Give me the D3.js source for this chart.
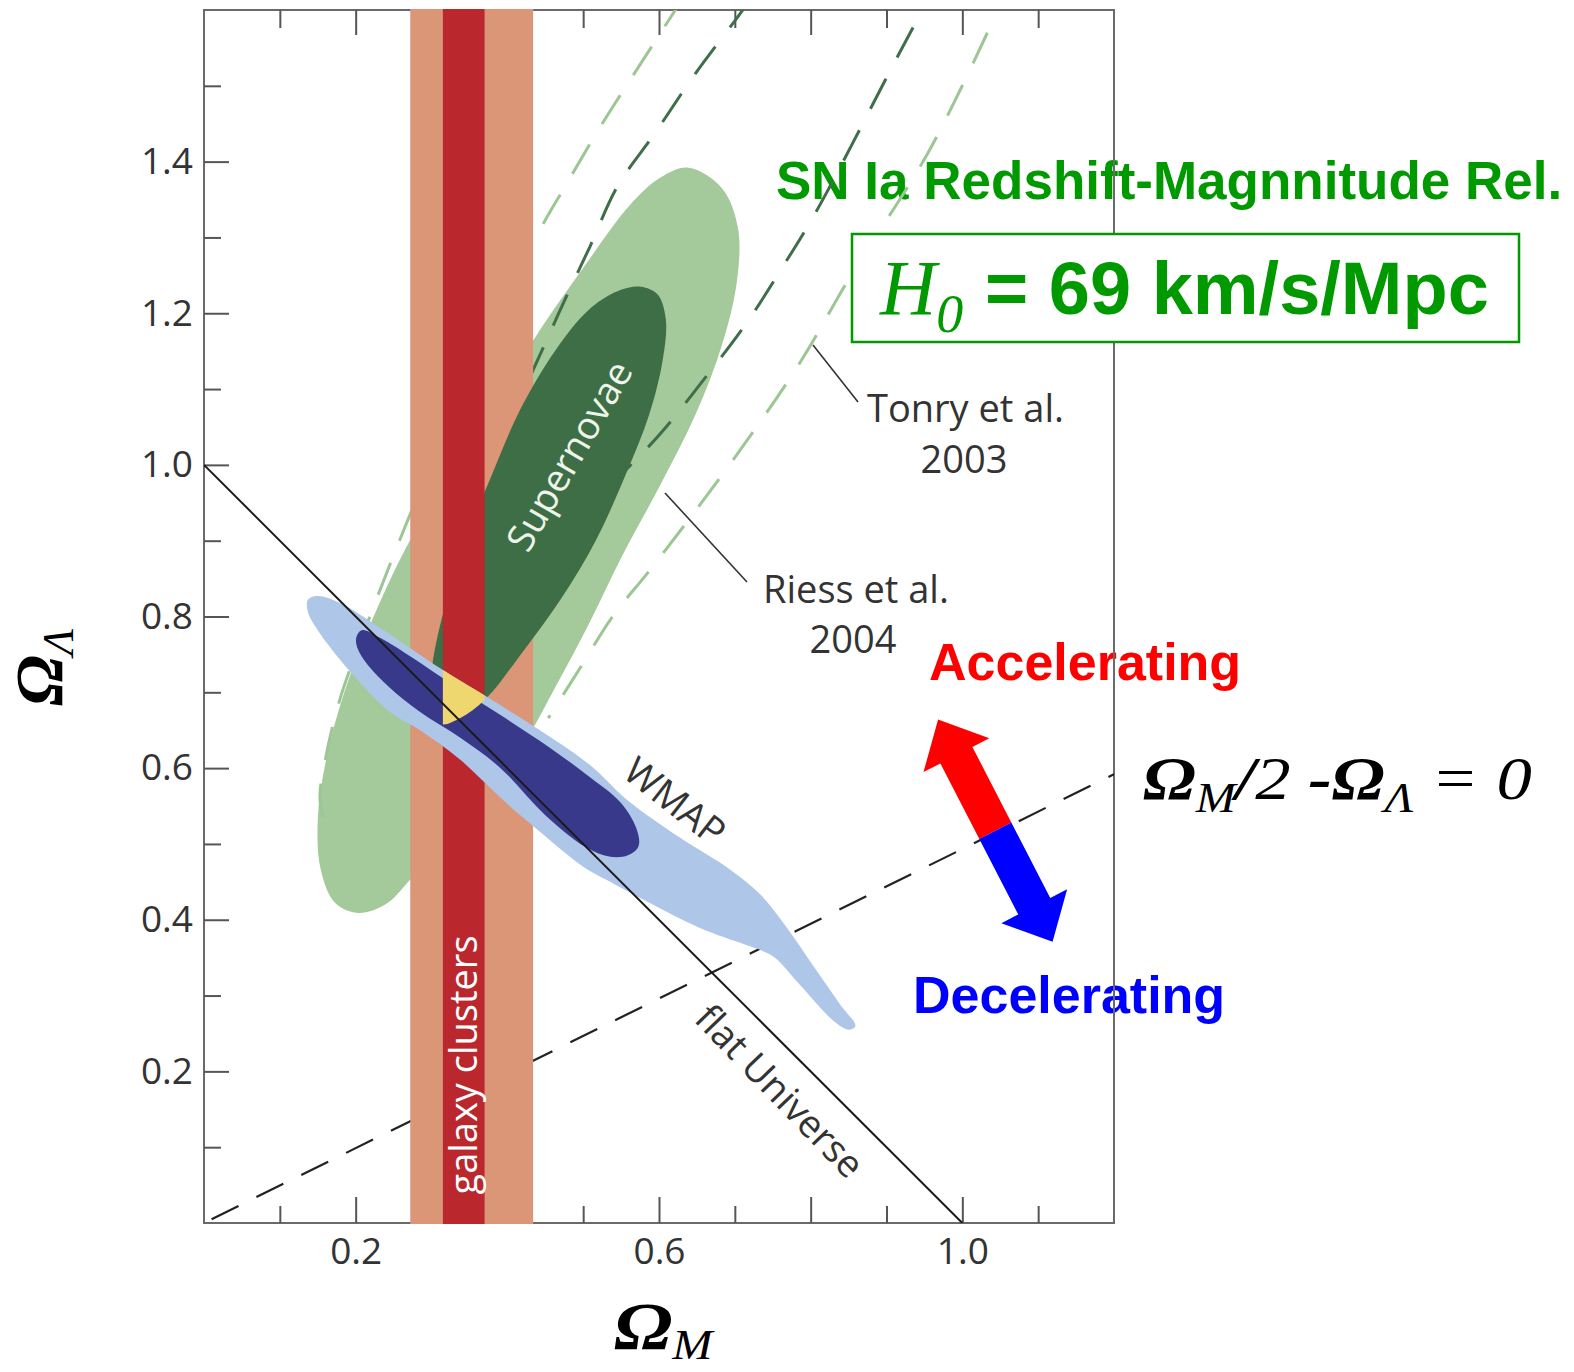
<!DOCTYPE html>
<html>
<head>
<meta charset="utf-8">
<script src="https://cdn.jsdelivr.net/npm/d3@7"></script>
<style>
  body { margin: 0; background: #fff; }
  text { font-family: "Open Sans", "Noto Sans", sans-serif; }
</style>
</head>
<body>
<script>
// ---- data (Omega_M, Omega_Lambda) ----
var xTicks = [0.1, 0.2, 0.3, 0.4, 0.5, 0.6, 0.7, 0.8, 0.9, 1.0, 1.1];
var xLabelled = [0.2, 0.6, 1.0];
var yTicks = [0.1, 0.2, 0.3, 0.4, 0.5, 0.6, 0.7, 0.8, 0.9, 1.0, 1.1, 1.2, 1.3, 1.4, 1.5];
var yLabelled = [0.2, 0.4, 0.6, 0.8, 1.0, 1.2, 1.4];

// galaxy clusters band (Omega_M ranges)
var clusterOuter = [0.272, 0.434];
var clusterInner = [0.315, 0.370];

// supernovae contours
var sn2sigma = [[0.639, 1.392], [0.683, 1.365], [0.704, 1.313], [0.703, 1.244], [0.683, 1.158],
  [0.648, 1.066], [0.602, 0.974], [0.552, 0.881], [0.507, 0.789], [0.465, 0.710], [0.417, 0.626],
  [0.335, 0.532], [0.272, 0.453], [0.239, 0.420], [0.203, 0.409], [0.173, 0.422], [0.154, 0.466],
  [0.150, 0.532], [0.161, 0.611], [0.186, 0.703], [0.222, 0.796], [0.265, 0.888], [0.318, 0.980],
  [0.377, 1.073], [0.443, 1.178], [0.503, 1.264], [0.562, 1.343], [0.602, 1.379]];
var sn1sigma = [[0.576, 1.235], [0.598, 1.225], [0.609, 1.192], [0.605, 1.139], [0.587, 1.066],
  [0.556, 0.987], [0.517, 0.901], [0.470, 0.822], [0.417, 0.749], [0.374, 0.694], [0.338, 0.666],
  [0.312, 0.658], [0.296, 0.683], [0.301, 0.736], [0.314, 0.799], [0.345, 0.901], [0.378, 0.983],
  [0.417, 1.073], [0.464, 1.152], [0.510, 1.207], [0.550, 1.231]];

// WMAP contours
var wmap2sigma = [[0.137, 0.822], [0.150, 0.827], [0.179, 0.818], [0.232, 0.785], [0.314, 0.730],
  [0.373, 0.694], [0.443, 0.650], [0.509, 0.604], [0.558, 0.558], [0.628, 0.508], [0.694, 0.466],
  [0.734, 0.433], [0.766, 0.393], [0.807, 0.334], [0.839, 0.288], [0.859, 0.260], [0.850, 0.255],
  [0.832, 0.265], [0.786, 0.314], [0.753, 0.350], [0.734, 0.360], [0.714, 0.367], [0.654, 0.389],
  [0.588, 0.422], [0.530, 0.453], [0.500, 0.470], [0.443, 0.516], [0.391, 0.561], [0.338, 0.611],
  [0.285, 0.650], [0.245, 0.674], [0.193, 0.727], [0.150, 0.782], [0.137, 0.806]];
var wmap1sigma = [[0.201, 0.773], [0.208, 0.782], [0.232, 0.772], [0.276, 0.745], [0.325, 0.712],
  [0.391, 0.670], [0.456, 0.627], [0.509, 0.588], [0.549, 0.555], [0.570, 0.521], [0.573, 0.497],
  [0.559, 0.485], [0.536, 0.483], [0.503, 0.496], [0.450, 0.538], [0.391, 0.600], [0.338, 0.640],
  [0.285, 0.674], [0.245, 0.706], [0.216, 0.736], [0.202, 0.759]];

// Tonry et al. 2003 and Riess et al. 2004 contour edges
var tonryLeft = [[0.632, 1.616], [0.575, 1.528], [0.522, 1.445], [0.476, 1.367], [0.443, 1.310],
  [0.351, 1.125], [0.285, 0.967], [0.245, 0.868], [0.212, 0.782], [0.179, 0.690], [0.160, 0.611],
  [0.153, 0.558], [0.166, 0.505]];
var tonryRight = [[1.033, 1.570], [0.955, 1.412], [0.852, 1.248], [0.786, 1.135],
  [0.698, 1.007], [0.591, 0.865], [0.538, 0.799], [0.496, 0.732], [0.454, 0.666]];
var riessLeft = [[0.720, 1.613], [0.701, 1.587], [0.645, 1.512], [0.595, 1.438], [0.545, 1.367],
  [0.509, 1.288], [0.476, 1.218], [0.443, 1.145], [0.404, 1.059]];
var riessRight = [[0.935, 1.577], [0.909, 1.528], [0.810, 1.339], [0.763, 1.261],
  [0.714, 1.185], [0.661, 1.115], [0.606, 1.046], [0.566, 1.003], [0.522, 0.960]];

// reference lines
var flatLine = [[0, 1], [1, 0]];
var decelLine = [[0.01, 0.005], [1.2, 0.592]];

// annotation anchors
var arrowEnds = [[0.968, 0.664], [1.119, 0.371]];

// ---- layout ----
var W = 1574, H = 1372;
var x = d3.scaleLinear().domain([0, 1.2]).range([204, 1114]);
var y = d3.scaleLinear().domain([0, 1.6]).range([1223, 10]);

var svg = d3.select("body").append("svg")
  .attr("width", W).attr("height", H);
var defs = svg.append("defs");

var line = d3.line().x(d => x(d[0])).y(d => y(d[1]));
var smooth = d3.line().x(d => x(d[0])).y(d => y(d[1])).curve(d3.curveCatmullRom.alpha(0.5));
var blob = d3.line().x(d => x(d[0])).y(d => y(d[1])).curve(d3.curveCatmullRomClosed.alpha(0.5));

defs.append("clipPath").attr("id", "plot").append("rect")
  .attr("x", x(0)).attr("y", y(1.6)).attr("width", x(1.2) - x(0)).attr("height", y(0) - y(1.6));
defs.append("clipPath").attr("id", "redband").append("rect")
  .attr("x", x(clusterInner[0])).attr("y", 0)
  .attr("width", x(clusterInner[1]) - x(clusterInner[0])).attr("height", H);
defs.append("clipPath").attr("id", "sn1").append("path").attr("d", blob(sn1sigma));

// green texts sit under the figure
svg.append("text").attr("x", 776).attr("y", 199)
  .style("font-family", "'Liberation Sans', Arial, sans-serif")
  .attr("font-weight", "bold").attr("font-size", 53).attr("fill", "#009900")
  .text("SN Ia Redshift-Magnnitude Rel.");
svg.append("text").attr("x", 929).attr("y", 680)
  .style("font-family", "'Liberation Sans', Arial, sans-serif")
  .attr("font-weight", "bold").attr("font-size", 52).attr("fill", "#ff0000")
  .text("Accelerating");
svg.append("text").attr("x", 913).attr("y", 1013)
  .style("font-family", "'Liberation Sans', Arial, sans-serif")
  .attr("font-weight", "bold").attr("font-size", 52).attr("fill", "#0000ff")
  .text("Decelerating");

// frame
svg.append("rect")
  .attr("x", x(0)).attr("y", y(1.6)).attr("width", x(1.2) - x(0)).attr("height", y(0) - y(1.6))
  .attr("fill", "none").attr("stroke", "#6a6a6a").attr("stroke-width", 2);

// ticks (inward)
function isIn(list, v) { return list.some(l => Math.abs(l - v) < 1e-6); }
function isMajor(v) { return Math.round(v * 10) % 2 === 0; }
var fmt = d3.format(".1f");

function styleAxis(g) {
  g.select(".domain").remove();
  g.selectAll(".tick line").attr("stroke", "#555").attr("stroke-width", 2);
  g.selectAll(".tick text").attr("fill", "#333").attr("font-size", 37)
    .style("font-family", "'Open Sans', 'Noto Sans', sans-serif");
}

svg.append("g").attr("transform", "translate(0," + y(0) + ")")
  .call(d3.axisBottom(x).tickValues(xTicks.filter(v => !isMajor(v))).tickSize(-17).tickFormat(""))
  .call(styleAxis);
svg.append("g").attr("transform", "translate(0," + y(0) + ")")
  .call(d3.axisBottom(x).tickValues(xTicks.filter(isMajor)).tickSize(-26).tickPadding(15)
    .tickFormat(d => isIn(xLabelled, d) ? fmt(d) : ""))
  .call(styleAxis);
svg.append("g").attr("transform", "translate(0," + y(1.6) + ")")
  .call(d3.axisTop(x).tickValues(xTicks.filter(v => !isMajor(v))).tickSize(-18).tickFormat(""))
  .call(styleAxis);
svg.append("g").attr("transform", "translate(0," + y(1.6) + ")")
  .call(d3.axisTop(x).tickValues(xTicks.filter(isMajor)).tickSize(-25).tickFormat(""))
  .call(styleAxis);
svg.append("g").attr("transform", "translate(" + x(0) + ",0)")
  .call(d3.axisLeft(y).tickValues(yTicks.filter(v => !isMajor(v))).tickSize(-17).tickFormat(""))
  .call(styleAxis);
svg.append("g").attr("transform", "translate(" + x(0) + ",0)")
  .call(d3.axisLeft(y).tickValues(yTicks.filter(isMajor)).tickSize(-25).tickPadding(11)
    .tickFormat(d => isIn(yLabelled, d) ? fmt(d) : ""))
  .call(styleAxis);

// ---- plotted regions, back to front ----
function clipped() { return svg.append("g").attr("clip-path", "url(#plot)"); }
function band(range, color) {
  svg.append("rect")
    .attr("x", x(range[0])).attr("y", y(1.6) - 1)
    .attr("width", x(range[1]) - x(range[0])).attr("height", y(0) - y(1.6) + 2)
    .attr("fill", color);
}

var back = clipped();
back.append("path").attr("d", blob(sn2sigma)).attr("fill", "#a4c99b");
function dashed(data, color) {
  back.append("path").attr("d", smooth(data)).attr("fill", "none")
    .attr("stroke", color).attr("stroke-width", 3).attr("stroke-dasharray", "34,24");
}
dashed(tonryLeft, "#9cc693");
dashed(tonryRight, "#9cc693");
dashed(riessLeft, "#3f6e48");
dashed(riessRight, "#3f6e48");
back.append("path").attr("d", line(decelLine)).attr("fill", "none")
  .attr("stroke", "#222").attr("stroke-width", 2.2).attr("stroke-dasharray", "30,20");

band(clusterOuter, "#da9677");
clipped().append("path").attr("d", blob(sn1sigma)).attr("fill", "#3d6e45");
band(clusterInner, "#ba282e");

var front = clipped();
front.append("path").attr("d", blob(wmap2sigma)).attr("fill", "#aec6e8");
front.append("path").attr("d", blob(wmap1sigma)).attr("fill", "#38398a");
// overlap of all three constraints
front.append("g").attr("clip-path", "url(#redband)")
  .append("g").attr("clip-path", "url(#sn1)")
  .append("path").attr("d", blob(wmap2sigma)).attr("fill", "#eed76e");
front.append("path").attr("d", line(flatLine)).attr("fill", "none")
  .attr("stroke", "#1a1a1a").attr("stroke-width", 2);

// labels in the plot
function label(txt, cx, cy, rot, fill) {
  svg.append("text").attr("transform", "translate(" + cx + "," + cy + ") rotate(" + rot + ")")
    .attr("text-anchor", "middle").attr("dominant-baseline", "central")
    .attr("font-size", 38).attr("fill", fill).text(txt);
}
label("Supernovae", 568, 455, -60, "#eef4ea");
label("galaxy clusters", 462, 1065, -90, "#ffffff");
label("WMAP", 676, 800, 38, "#333");
label("flat Universe", 781, 1090, 46, "#333");

// leader lines to the dashed contours
svg.append("line").attr("x1", 813).attr("y1", 345).attr("x2", 858).attr("y2", 402)
  .attr("stroke", "#333").attr("stroke-width", 1.6);
svg.append("line").attr("x1", 665).attr("y1", 493).attr("x2", 747).attr("y2", 582)
  .attr("stroke", "#333").attr("stroke-width", 1.6);
svg.append("text").attr("x", 867).attr("y", 422).attr("font-size", 38).attr("fill", "#333").text("Tonry et al.");
svg.append("text").attr("x", 964).attr("y", 473).attr("font-size", 38).attr("fill", "#333")
  .attr("text-anchor", "middle").text("2003");
svg.append("text").attr("x", 763).attr("y", 603).attr("font-size", 38).attr("fill", "#333").text("Riess et al.");
svg.append("text").attr("x", 853).attr("y", 653).attr("font-size", 38).attr("fill", "#333")
  .attr("text-anchor", "middle").text("2004");

// double arrow
var p0 = [x(arrowEnds[0][0]), y(arrowEnds[0][1])];
var p1 = [x(arrowEnds[1][0]), y(arrowEnds[1][1])];
var L = Math.hypot(p1[0] - p0[0], p1[1] - p0[1]);
var u = [(p1[0] - p0[0]) / L, (p1[1] - p0[1]) / L];
var n = [-u[1], u[0]];
function pt(s, t) { return [p0[0] + u[0] * s + n[0] * t, p0[1] + u[1] * s + n[1] * t]; }
var headL = 40, headW = 37, shaftW = 18, mid = L / 2;
svg.append("path").attr("fill", "#ff0000").attr("d", d3.line()([
  pt(0, 0), pt(headL, headW), pt(headL, shaftW), pt(mid, shaftW),
  pt(mid, -shaftW), pt(headL, -shaftW), pt(headL, -headW)]) + "Z");
svg.append("path").attr("fill", "#0000ff").attr("d", d3.line()([
  pt(L, 0), pt(L - headL, headW), pt(L - headL, shaftW), pt(mid, shaftW),
  pt(mid, -shaftW), pt(L - headL, -shaftW), pt(L - headL, -headW)]) + "Z");

// H0 box
svg.append("rect").attr("x", 852).attr("y", 234).attr("width", 667).attr("height", 108)
  .attr("fill", "#fff").attr("stroke", "#009900").attr("stroke-width", 2.5);
var h0 = svg.append("text").attr("x", 880).attr("y", 314).attr("fill", "#009900");
h0.append("tspan").style("font-family", "'Liberation Serif', serif").attr("font-style", "italic")
  .attr("font-size", 78).text("H");
h0.append("tspan").style("font-family", "'Liberation Serif', serif").attr("font-style", "italic")
  .attr("font-size", 54).attr("dy", 18).text("0");
h0.append("tspan").style("font-family", "'Liberation Sans', Arial, sans-serif").attr("font-weight", "bold")
  .attr("font-size", 74).attr("x", 985).attr("dy", -18).text("= 69 km/s/Mpc");

// math labels
function mathText(tx, ty, rot, sx, parts) {
  var t = svg.append("text")
    .attr("transform", "translate(" + tx + "," + ty + ") rotate(" + rot + ") scale(" + sx + ",1)")
    .attr("fill", "#000");
  parts.forEach(function (p) {
    var s = t.append("tspan").style("font-family", "'Liberation Serif', serif")
      .attr("font-style", "italic").attr("font-size", p.size).text(p.t);
    if (p.bold) s.attr("font-weight", "bold");
    if (p.dy) s.attr("dy", p.dy);
  });
}
mathText(614, 1349, 0, 1.15, [{ t: "Ω", size: 68, bold: true }, { t: "M", size: 42, dy: 10 }]);
mathText(62, 706, -90, 1, [{ t: "Ω", size: 68, bold: true }, { t: "Λ", size: 44, dy: 11 }]);
mathText(1143, 799, 0, 1.14, [
  { t: "Ω", size: 62, bold: true }, { t: "M", size: 42, dy: 13 }, { t: "/", size: 62, bold: true, dy: -13 },
  { t: "2 ", size: 62 }, { t: "-", size: 62, bold: true }, { t: "Ω", size: 62, bold: true },
  { t: "Λ", size: 42, dy: 13 }, { t: " = 0", size: 62, dy: -13 }]);
</script>
</body>
</html>
